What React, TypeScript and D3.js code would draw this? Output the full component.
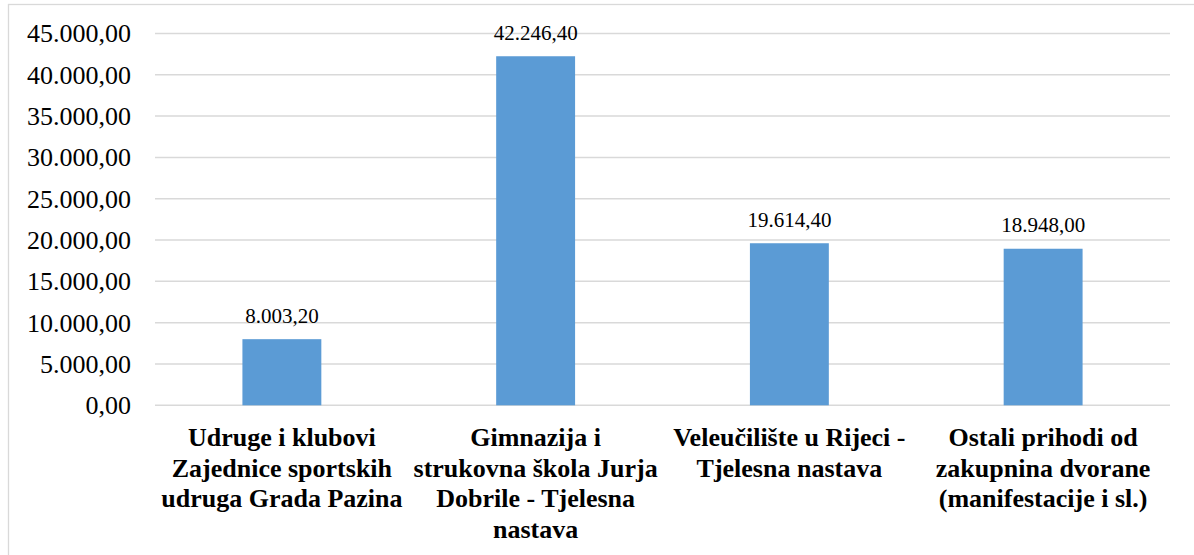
import * as React from "react";
import * as d3 from "d3";

// category labels (line breaks as in the original chart)
const categories = [
  ["Udruge i klubovi", "Zajednice sportskih", "udruga Grada Pazina"],
  ["Gimnazija i", "strukovna škola Jurja", "Dobrile - Tjelesna", "nastava"],
  ["Veleučilište u Rijeci -", "Tjelesna nastava"],
  ["Ostali prihodi od", "zakupnina dvorane", "(manifestacije i sl.)"],
];
const values = [8003.2, 42246.4, 19614.4, 18948.0];
const yTicks = [0, 5000, 10000, 15000, 20000, 25000, 30000, 35000, 40000, 45000];

const W = 1194;
const H = 555;
const FONT = "'Liberation Serif', 'Times New Roman', serif";

// 45.000,00 style
const fmtNum = (v: number) => {
  const s = v.toFixed(2);
  const [int, dec] = s.split(".");
  return int.replace(/\B(?=(\d{3})+(?!\d))/g, ".") + "," + dec;
};

function drawChart(svgEl: SVGSVGElement) {
  const svg = d3.select(svgEl);
  svg.selectAll("*").remove();

  const left = 155, right = 1170, top = 33.5, bottom = 405.3;

  const x = d3.scaleBand<number>()
    .domain(d3.range(values.length))
    .range([left, right])
    .paddingInner(0.689)
    .paddingOuter(0.3445);

  const y = d3.scaleLinear().domain([0, 45000]).range([bottom, top]);

  // outer chart border
  svg.append("rect")
    .attr("x", 8.5).attr("y", 4.5)
    .attr("width", W).attr("height", H)
    .attr("fill", "none")
    .attr("stroke", "#d9d9d9")
    .attr("stroke-width", 1.3);

  // gridlines
  svg.append("g").selectAll("line")
    .data(yTicks)
    .join("line")
    .attr("x1", left).attr("x2", right)
    .attr("y1", d => y(d)).attr("y2", d => y(d))
    .attr("stroke", "#d9d9d9")
    .attr("stroke-width", 1.5);

  // y tick labels
  svg.append("g").selectAll("text")
    .data(yTicks)
    .join("text")
    .attr("x", 131)
    .attr("y", d => y(d))
    .attr("dy", "0.34em")
    .attr("text-anchor", "end")
    .attr("font-family", FONT)
    .attr("font-size", 26)
    .attr("fill", "#000")
    .text(d => fmtNum(d));

  // bars
  svg.append("g").selectAll("rect")
    .data(values)
    .join("rect")
    .attr("x", (_, i) => x(i)!)
    .attr("width", x.bandwidth())
    .attr("y", d => y(d))
    .attr("height", d => y(0) - y(d))
    .attr("fill", "#5b9bd5");

  // value labels
  svg.append("g").selectAll("text")
    .data(values)
    .join("text")
    .attr("x", (_, i) => x(i)! + x.bandwidth() / 2)
    .attr("y", d => y(d) - 16.5)
    .attr("text-anchor", "middle")
    .attr("font-family", FONT)
    .attr("font-size", 21)
    .attr("fill", "#000")
    .text(d => fmtNum(d));

  // category labels
  const cat = svg.append("g").selectAll("text")
    .data(categories)
    .join("text")
    .attr("text-anchor", "middle")
    .attr("font-family", FONT)
    .attr("font-size", 26)
    .attr("font-weight", "bold")
    .attr("fill", "#000");

  cat.selectAll("tspan")
    .data((d, i) => d.map(line => ({ line, i })))
    .join("tspan")
    .attr("x", d => x(d.i)! + x.bandwidth() / 2)
    .attr("y", (_, j) => 446 + j * 30.5)
    .text(d => d.line);
}

const App = () => {
  const svg = React.useRef<SVGSVGElement>(null);
  React.useEffect(() => {
    if (svg.current) drawChart(svg.current);
  }, [svg]);

  return (
    <div id="chart" style={{ position: "absolute", left: 0, top: 0 }}>
      <svg ref={svg} width={W} height={H} style={{ display: "block", background: "#fff" }}></svg>
    </div>
  );
};

export default App;
